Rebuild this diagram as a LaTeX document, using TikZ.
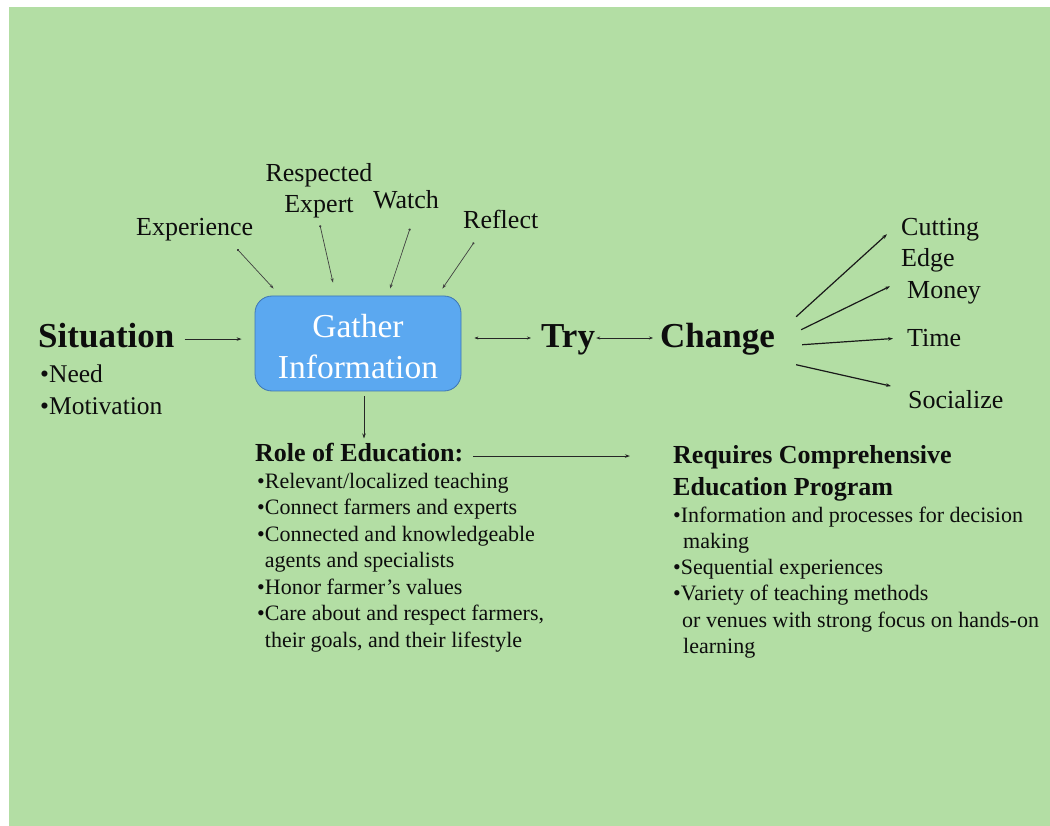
\documentclass[tikz,border=0pt]{standalone}
\usepackage{fontspec}
\setmainfont{Liberation Serif}
\usetikzlibrary{arrows.meta,calc}
\definecolor{bggreen}{RGB}{179,222,164}
\definecolor{boxblue}{RGB}{91,168,240}
\definecolor{boxline}{RGB}{62,118,178}
\newcommand{\fsz}[1]{\fontsize{#1}{#1}\selectfont}
\begin{document}
\begin{tikzpicture}[x=1pt,y=-1pt,
  lbl/.style={inner sep=0pt, font=\fsz{26}, text=black!95},
  big/.style={inner sep=0pt, anchor=base west, font=\fsz{35}\bfseries, text=black!95},
  bul/.style={inner sep=0pt, anchor=base west, font=\fsz{22}, text=black!95},
  ttl/.style={inner sep=0pt, anchor=base west, font=\fsz{26}\bfseries, text=black!95},
  gbox/.style={draw=boxline, line width=0.8pt, fill=boxblue, rounded corners=17pt,
    minimum width=206pt, minimum height=95pt, inner sep=0pt, text=white, align=center,
    font=\fontsize{33.5}{41}\selectfont},
  arr/.style={draw=black!85, line width=0.9pt, -{Stealth[length=5pt,width=3.5pt]}},
  fan/.style={draw=black!90, line width=1.2pt, -{Stealth[length=5pt,width=3.5pt]}},
  tarr/.style={draw=black!75, line width=0.7pt, {Circle[length=2.2pt]}-{Stealth[length=4.5pt,width=3pt]}},
  both/.style={draw=black!85, line width=0.9pt, {Stealth[length=4pt,width=3pt]}-{Stealth[length=4pt,width=3pt]}}
]
\useasboundingbox (0,0) rectangle (1050,826);
\fill[white] (0,0) rectangle (1050,826);
\fill[bggreen] (9,7) rectangle (1050,826);

% left: situation
\node[big] (sit) at (38,348) {Situation};
\node[lbl, anchor=base west, font=\fsz{25.5}] (need) at (40,383) {•Need};
\node[lbl, anchor=base west, font=\fsz{25.5}] (mot) at (40,414) {•Motivation};

% central box
\node[gbox] (box) at (358,343.5) {\rule{0pt}{29pt}Gather\\Information};

% top labels
\node[lbl, anchor=base west] (exp) at (136,236) {Experience};
\node[lbl, anchor=base] (resp) at (319,182) {Respected};
\node[lbl, anchor=base] (expert) at (319,213) {Expert};
\node[lbl, anchor=base] (watch) at (406,209) {Watch};
\node[lbl, anchor=base west] (refl) at (463,229) {Reflect};

% try / change
\node[big] (try) at (541,348) {Try};
\node[big] (chg) at (660,348) {Change};

% right labels
\node[lbl, anchor=base west] (cut) at (901,236) {Cutting};
\node[lbl, anchor=base west] (edge) at (901,267) {Edge};
\node[lbl, anchor=base west] (money) at (907,299) {Money};
\node[lbl, anchor=base west] (time) at (907,347) {Time};
\node[lbl, anchor=base west] (soc) at (908,408) {Socialize};

% role of education block
\node[ttl] (role) at (255,461) {Role of Education:};
\foreach \t [count=\i] in {{•Relevant/localized teaching},{•Connect farmers and experts},{•Connected and knowledgeable},{\phantom{•}agents and specialists},{•Honor farmer’s values},{•Care about and respect farmers,},{\phantom{•}their goals, and their lifestyle}}
  \node[bul] (lb\i) at (257,{488+26.5*(\i-1)}) {\t};

% requires block
\node[ttl] (req) at (673,463) {Requires Comprehensive};
\node[ttl] (req2) at (673,495) {Education Program};
\foreach \t [count=\i] in {{•Information and processes for decision},{\hspace*{10pt}making},{•Sequential experiences},{•Variety of teaching methods},{\hspace*{9pt}or venues with strong focus on hands-on},{\hspace*{10pt}learning}}
  \node[bul] (rb\i) at (673,{522+26.3*(\i-1)}) {\t};

% connectors
\draw[arr] ($(sit.east)+(10,3)$) -- ($(sit.east -| box.west)+(-13,3)$);
\draw[tarr] ($(exp.south east)+(-16,7.5)$) -- ($(box.north west)+(19,-7)$);
\draw[tarr] ($(expert.south)+(1,6.5)$) -- ($(box.north)+(-25,-13)$);
\draw[tarr] ($(watch.south)+(4,19)$) -- ($(box.north)+(32,-7)$);
\draw[tarr] ($(refl.south west)+(11,13)$) -- ($(box.north east)+(-19,-7)$);
\draw[both] ($(box.east)+(13,-5.5)$) -- ($(box.east -| try.west)+(-10,-5.5)$);
\draw[both] ($(box.east -| try.east)+(1,-5.5)$) -- ($(box.east -| chg.west)+(-7,-5.5)$);
\draw[fan] ($(chg.east)+(21,-23)$) -- ($(cut.west)+(-14,4)$);
\draw[fan] ($(chg.east)+(26,-10)$) -- ($(money.west)+(-17,-7)$);
\draw[fan] ($(chg.east)+(27,5)$) -- ($(time.west)+(-14,0)$);
\draw[fan] ($(chg.east)+(21,25)$) -- ($(soc.west)+(-17,-13)$);
\draw[arr] ($(box.south)+(6,5)$) -- ($(box.south |- role.north)+(6,-4)$);
\draw[arr] ($(role.east)+(10,4)$) -- ($(role.east -| req.west)+(-43,4)$);
\end{tikzpicture}
\end{document}
